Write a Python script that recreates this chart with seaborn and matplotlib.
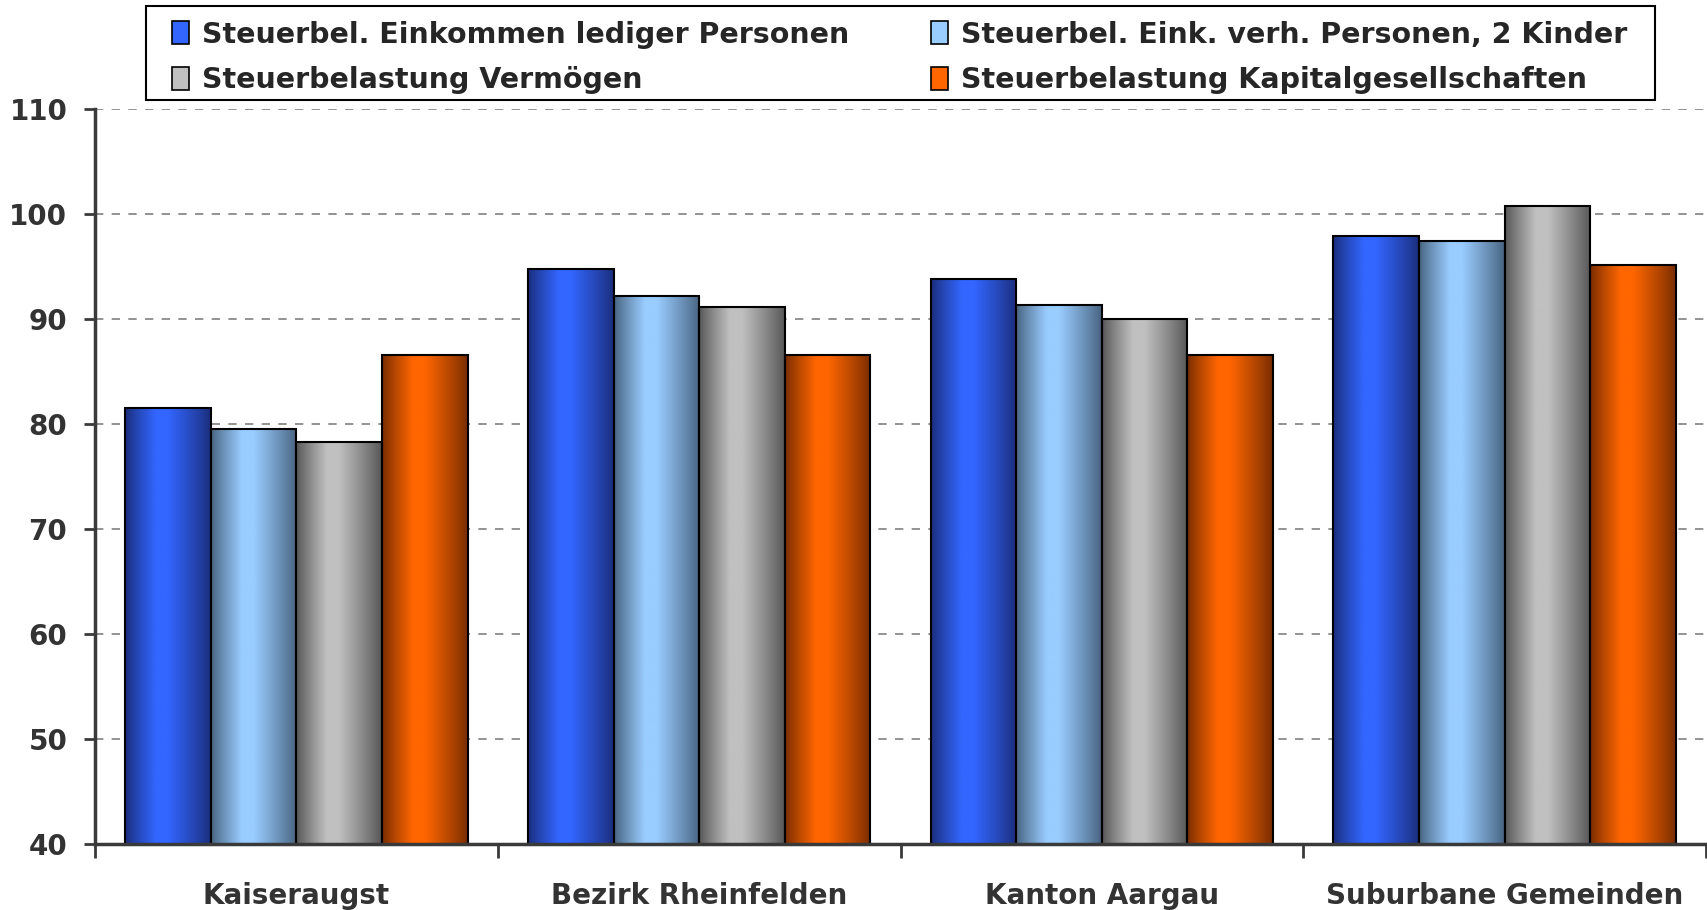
import numpy as np
import pandas as pd
import matplotlib
matplotlib.use("Agg")
import matplotlib.pyplot as plt
import matplotlib.colors as mcolors
from matplotlib.patches import Patch, Rectangle
from matplotlib.ticker import FixedLocator, MultipleLocator
import seaborn as sns

categories = ["Kaiseraugst", "Bezirk Rheinfelden", "Kanton Aargau", "Suburbane Gemeinden"]
series = ["Steuerbel. Einkommen lediger Personen",
          "Steuerbel. Eink. verh. Personen, 2 Kinder",
          "Steuerbelastung Vermögen",
          "Steuerbelastung Kapitalgesellschaften"]
einkommen_ledig = [81.5, 94.7, 93.8, 97.9]
einkommen_verh = [79.5, 92.2, 91.3, 97.4]
vermoegen = [78.3, 91.1, 90.0, 100.7]
kapitalges = [86.6, 86.6, 86.6, 95.1]

bright = ["#3366ff", "#99ccff", "#c0c0c0", "#ff6600"]
dark = ["#1a2d7a", "#46627e", "#555555", "#772c00"]

values = [einkommen_ledig, einkommen_verh, vermoegen, kapitalges]
df = pd.DataFrame({
    "Gemeinde": categories * len(series),
    "Serie": [s for s in series for _ in categories],
    "Wert": [v for vals in values for v in vals],
})

sns.set_theme(style="white")
plt.rcParams["font.family"] = ["DejaVu Sans"]
plt.rcParams["font.weight"] = "bold"

fig = plt.figure(figsize=(17.07, 9.10), dpi=100)
ax = fig.add_axes([0.0557, 0.0725, 0.9437, 0.808])

sns.barplot(data=df, x="Gemeinde", y="Wert", hue="Serie", order=categories,
            hue_order=series, palette=bright, width=0.85, gap=0,
            edgecolor="black", linewidth=1.5, ax=ax, legend=False, zorder=3)

YMIN, YMAX = 40, 110
ax.set_ylim(YMIN, YMAX)
ax.set_xlim(-0.5, 3.5)

# gradient fills clipped to each bar
t = np.linspace(0, 1, 256)
prof = np.where(t < 0.36, t / 0.36, np.where(t < 0.50, 1.0, 1 - (t - 0.50) / 0.50))
prof = np.clip(prof, 0, 1) ** 0.9
for cont, b, d in zip(ax.containers, bright, dark):
    cb = np.array(mcolors.to_rgb(b))
    cd = np.array(mcolors.to_rgb(d))
    grad = (cd[None, :] * (1 - prof[:, None]) + cb[None, :] * prof[:, None])[None, :, :]
    for p in cont.patches:
        x0, y0 = p.get_x(), p.get_y()
        w, h = p.get_width(), p.get_height()
        ybot = max(y0, YMIN)
        im = ax.imshow(grad, extent=[x0, x0 + w, ybot, y0 + h], aspect="auto",
                       interpolation="bilinear", zorder=3.5)
        im.set_clip_path(p)
        p.set_facecolor("none")
        p.set_zorder(4)
ax.set_xlim(-0.5, 3.5)
ax.set_ylim(YMIN, YMAX)

# grid
ax.yaxis.set_major_locator(MultipleLocator(10))
ax.grid(axis="y", color="#808080", linestyle=(0, (5, 5)), linewidth=1.2, zorder=1)
ax.grid(axis="x", visible=False)

for s in ["top", "right"]:
    ax.spines[s].set_visible(False)
for s in ["left", "bottom"]:
    ax.spines[s].set_color("#3a3a3a")
    ax.spines[s].set_linewidth(2.5)
    ax.spines[s].set_zorder(5)

ax.set_xlabel("")
ax.set_ylabel("")
ax.tick_params(axis="y", which="major", left=True, length=8, width=2, color="#3a3a3a",
               labelsize=20, labelcolor="#333333", pad=12)
ax.tick_params(axis="x", which="major", bottom=False, labelsize=20, labelcolor="#333333", pad=21)
ax.xaxis.set_minor_locator(FixedLocator([-0.5, 0.5, 1.5, 2.5, 3.5]))
ax.tick_params(axis="x", which="minor", bottom=True, length=10, width=2, color="#3a3a3a")
for lab in ax.get_xticklabels() + ax.get_yticklabels():
    lab.set_fontweight("bold")

# legend (frame drawn separately for wider side padding)
fig.patches.append(Rectangle((0.0855, 0.890), 0.884, 0.103, transform=fig.transFigure,
                             facecolor="white", edgecolor="black", linewidth=1.5, zorder=0))
handles = [Patch(facecolor=b, edgecolor="black", linewidth=1.2) for b in bright]
order = [0, 2, 1, 3]
leg = fig.legend([handles[i] for i in order], [series[i] for i in order], ncol=2,
                 loc="center", bbox_to_anchor=(0.527, 0.937),
                 bbox_transform=fig.transFigure, frameon=False,
                 borderaxespad=0, handlelength=0.6, handleheight=0.9,
                 handletextpad=0.45, borderpad=0.3, labelspacing=0.62, columnspacing=2.9,
                 prop={"weight": "bold", "size": 20.5})

fig.savefig("out.png", dpi=100, facecolor="white")
